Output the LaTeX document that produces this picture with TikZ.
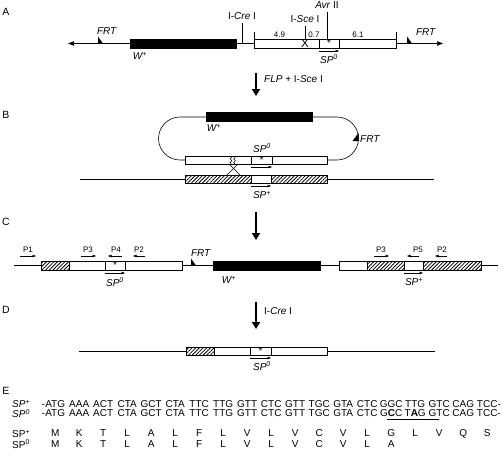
\documentclass[tikz,border=0pt]{standalone}
\usepackage{fontspec}
\setmainfont{Liberation Sans}
\usetikzlibrary{positioning,arrows.meta,patterns.meta,decorations.pathmorphing}

\newcommand{\cdn}[1]{\makebox[24pt]{#1}}
\newcommand{\spz}{\textit{SP\textsuperscript{0}}}
\newcommand{\spp}{\textit{SP\textsuperscript{+}}}
\newcommand{\wplus}{\textit{W\textsuperscript{+}}}

\begin{document}
\begin{tikzpicture}[x=1pt, y=-1pt,
        blackbar/.style={rectangle, draw, fill=black, inner sep=0pt, outer sep=0pt, minimum height=9pt},
        openbox/.style={rectangle, draw, fill=white, line width=0.6pt, inner sep=0pt, outer sep=0pt, minimum height=9pt},
        hatchbox/.style={openbox, pattern={Lines[angle=45, distance=2.6pt, line width=0.8pt]}},
        dnaline/.style={line width=0.6pt},
        smallarrow/.style={line width=0.5pt, -{Triangle[length=3.5pt, width=2.6pt]}},
        bigarrow/.style={line width=2.2pt, -{Triangle[length=7pt, width=8pt]}},
        endarrow/.style={dnaline, -{Triangle[length=6pt, width=4.5pt]}},
        lbl/.style={font=\fontsize{10}{12}\selectfont, inner sep=1pt},
        primer/.style={font=\fontsize{8}{9}\selectfont, inner sep=1pt},
        numlbl/.style={font=\fontsize{8}{9}\selectfont, inner sep=1pt},
        panel/.style={font=\fontsize{10.5}{12}\selectfont, inner sep=0pt},
        seq/.style={font=\fontsize{10}{12}\selectfont, inner sep=0pt, anchor=west},
        node distance=0pt
        ]
        \useasboundingbox (0,0) rectangle (503,459);

        % A
        \node[panel] (lab_a) at (6,12) {A};
        \coordinate (a_left) at (68,43.5);
        \coordinate (a_right) at (443,43.5);
        \node[blackbar, minimum width=106pt, anchor=west] (a_w) at (130,43.5) {};
        \node[openbox, minimum width=65pt, anchor=west]   (a_b1) at (254,43.5) {};
        \node[openbox, minimum width=20pt, right=of a_b1] (a_sp) {*};
        \node[openbox, minimum width=57pt, right=of a_sp] (a_b2) {};
        \draw[endarrow] (a_w.west) -- (a_left);
        \draw[dnaline]  (a_w.east) -- (a_b1.west);
        \draw[endarrow] (a_b2.east) -- (a_right);
        \fill (98,43.5) -- ++(0,-7) -- ++(5,7) -- cycle;
        \fill (407,43.5) -- ++(0,-7) -- ++(5,7) -- cycle;
        \node[lbl] (a_frt1) at (107,31) {\textit{FRT}};
        \node[lbl] (a_frt2) at (426,32) {\textit{FRT}};
        \node[lbl] (a_wlab) at (140,56) {\wplus};
        \node[lbl] (a_cre) at (242,16) {I-\textit{Cre} I};
        \draw[dnaline, shorten <=2pt] (a_cre.south) -- (a_cre.south |- a_w.east);
        \node[lbl] (a_sce) at (305,19) {I-\textit{Sce} I};
        \draw[dnaline, shorten <=2pt] (a_sce.south) -- (a_sce.south |- a_b1.north);
        \node[font=\fontsize{11.5}{12}\selectfont, inner sep=0pt] (a_x) at (a_sce.south |- a_b1.center) {X};
        \node[lbl] (a_avr) at (327,5) {\textit{Avr} II};
        \draw[dnaline, shorten <=2pt] (a_avr.south) -- (a_avr.south |- a_b1.north);
        \draw[dnaline] (a_b1.north west) -- ++(0,-7);
        \draw[dnaline] (a_b2.north east) -- ++(0,-7);
        \node[numlbl] (a_n1) at (279.5,35) {4.9};
        \node[numlbl] (a_n2) at (314,35) {0.7};
        \node[numlbl] (a_n3) at (358,35) {6.1};
        \draw[smallarrow] ([yshift=-3pt]a_sp.south west) -- ([yshift=-3pt]a_sp.south east);
        \node[lbl] (a_spz) at (329,59) {\spz};

        \coordinate (ab_top) at (256,73);
        \coordinate (ab_bot) at (256,96);
        \draw[bigarrow] (ab_top) -- (ab_bot);
        \node[lbl, anchor=west] (ab_lab) at (263,79) {\textit{FLP} + I-\textit{Sce} I};

        % B
        \node[panel] (lab_b) at (6,115) {B};
        \node[blackbar, minimum width=106pt, anchor=west] (b_w) at (206,117) {};
        \node[openbox, minimum width=66pt, minimum height=8pt, anchor=west] (b_t1) at (185,160) {};
        \node[openbox, minimum width=21pt, minimum height=8pt, right=of b_t1] (b_tsp) {*};
        \node[openbox, minimum width=55pt, minimum height=8pt, right=of b_tsp] (b_t2) {};
        \draw[dnaline] (b_w.west) -- ++(-26,0) arc[start angle=270, end angle=90, radius=21.5] -- (b_t1.west);
        \draw[dnaline] (b_w.east) -- ++(25,0) arc[start angle=270, end angle=450, radius=21.5] -- (b_t2.east);
        \fill (358.5,133) -- (358.5,141) -- (352.5,141) -- cycle;
        \node[lbl, anchor=west] (b_frt) at (359,139) {\textit{FRT}};
        \node[lbl] (b_wlab) at (214,128) {\wplus};
        \node[lbl] (b_spz) at (262,148) {\spz};
        \draw[smallarrow] ([yshift=-3pt]b_tsp.south west) -- ([yshift=-3pt]b_tsp.south east);
        \draw[dnaline, decorate, decoration={snake, amplitude=0.8pt, segment length=3.5pt}]
            ([xshift=46pt]b_t1.north west) -- ([xshift=46pt]b_t1.south west);
        \draw[dnaline, decorate, decoration={snake, amplitude=0.8pt, segment length=3.5pt}]
            ([xshift=49.5pt]b_t1.north west) -- ([xshift=49.5pt]b_t1.south west);

        \coordinate (b_left) at (80,179);
        \coordinate (b_right) at (434,179);
        \node[hatchbox, minimum width=66pt, minimum height=8pt, anchor=west] (b_h1) at (185,179) {};
        \node[openbox, minimum width=20pt, minimum height=8pt, right=of b_h1] (b_hsp) {};
        \node[hatchbox, minimum width=56pt, minimum height=8pt, right=of b_hsp] (b_h2) {};
        \draw[dnaline] (b_left) -- (b_h1.west);
        \draw[dnaline] (b_h2.east) -- (b_right);
        \draw[dnaline] ([xshift=44pt]b_t1.south west) -- ([xshift=55pt]b_h1.north west);
        \draw[dnaline] ([xshift=53pt]b_t1.south west) -- ([xshift=42pt]b_h1.north west);
        \draw[smallarrow] ([yshift=-3pt]b_hsp.south west) -- ([yshift=-3pt]b_hsp.south east);
        \node[lbl] (b_spp) at (262,195) {\spp};

        \coordinate (bc_top) at (256,212);
        \coordinate (bc_bot) at (256,240);
        \draw[bigarrow] (bc_top) -- (bc_bot);

        % C
        \node[panel] (lab_c) at (6,222) {C};
        \coordinate (c_left) at (14,265.5);
        \coordinate (c_right) at (498,265.5);
        \node[hatchbox, minimum width=28pt, anchor=west] (c_h1) at (41,265.5) {};
        \node[openbox, minimum width=36pt, right=of c_h1] (c_b1) {};
        \node[openbox, minimum width=20pt, right=of c_b1] (c_sp) {*};
        \node[openbox, minimum width=57pt, right=of c_sp] (c_b2) {};
        \node[blackbar, minimum width=107pt, anchor=west] (c_w) at (213,265.5) {};
        \node[openbox, minimum width=28pt, anchor=west] (c_o1) at (339,265.5) {};
        \node[hatchbox, minimum width=37pt, right=of c_o1] (c_h2) {};
        \node[openbox, minimum width=19pt, right=of c_h2] (c_sp2) {};
        \node[hatchbox, minimum width=58pt, right=of c_sp2] (c_h3) {};
        \draw[dnaline] (c_left) -- (c_h1.west);
        \draw[dnaline] (c_b2.east) -- (c_w.west);
        \draw[dnaline] (c_w.east) -- (c_o1.west);
        \draw[dnaline] (c_h3.east) -- (c_right);
        \fill (191,265.5) -- ++(0,-7) -- ++(5,7) -- cycle;
        \node[lbl] (c_frt) at (201,253) {\textit{FRT}};
        \node[lbl] (c_wlab) at (229,280) {\wplus};
        \draw[smallarrow] ([yshift=-3pt]c_sp.south west) -- ([yshift=-3pt]c_sp.south east);
        \node[lbl] (c_spz) at (115,282) {\spz};
        \draw[smallarrow] ([yshift=-3pt]c_sp2.south west) -- ([yshift=-3pt]c_sp2.south east);
        \node[lbl] (c_spp) at (414,282) {\spp};
        \node[primer] (c_p1) at (28,250) {P1};
        \draw[smallarrow] ([xshift=-8pt, yshift=-6pt]c_p1.center) -- ([xshift=8pt, yshift=-6pt]c_p1.center);
        \node[primer] (c_p3) at (88,250) {P3};
        \draw[smallarrow] ([xshift=-7pt, yshift=-6pt]c_p3.center) -- ([xshift=8pt, yshift=-6pt]c_p3.center);
        \node[primer] (c_p4) at (116,250) {P4};
        \draw[smallarrow] ([xshift=6pt, yshift=-6pt]c_p4.center) -- ([xshift=-8pt, yshift=-6pt]c_p4.center);
        \node[primer] (c_p2) at (139,250) {P2};
        \draw[smallarrow] ([xshift=6pt, yshift=-6pt]c_p2.center) -- ([xshift=-6pt, yshift=-6pt]c_p2.center);
        \node[primer] (c_p3r) at (381,250) {P3};
        \draw[smallarrow] ([xshift=-7pt, yshift=-6pt]c_p3r.center) -- ([xshift=8pt, yshift=-6pt]c_p3r.center);
        \node[primer] (c_p5) at (418,250) {P5};
        \draw[smallarrow] ([xshift=1pt, yshift=-6pt]c_p5.center) -- ([xshift=-11pt, yshift=-6pt]c_p5.center);
        \node[primer] (c_p2r) at (442,250) {P2};
        \draw[smallarrow] ([xshift=5pt, yshift=-6pt]c_p2r.center) -- ([xshift=-7pt, yshift=-6pt]c_p2r.center);

        \coordinate (cd_top) at (256,302);
        \coordinate (cd_bot) at (256,329);
        \draw[bigarrow] (cd_top) -- (cd_bot);
        \node[lbl, anchor=west] (cd_lab) at (263,311) {I-\textit{Cre} I};

        % D
        \node[panel] (lab_d) at (6,310) {D};
        \coordinate (d_left) at (79,351);
        \coordinate (d_right) at (435,351);
        \node[hatchbox, minimum width=28pt, minimum height=8pt, anchor=west] (d_h) at (186,351) {};
        \node[openbox, minimum width=36pt, minimum height=8pt, right=of d_h] (d_b1) {};
        \node[openbox, minimum width=21pt, minimum height=8pt, right=of d_b1] (d_sp) {*};
        \node[openbox, minimum width=56pt, minimum height=8pt, right=of d_sp] (d_b2) {};
        \draw[dnaline] (d_left) -- (d_h.west);
        \draw[dnaline] (d_b2.east) -- (d_right);
        \draw[smallarrow] ([yshift=-3pt]d_sp.south west) -- ([yshift=-3pt]d_sp.south east);
        \node[lbl] (d_spz) at (262,366) {\spz};

        % E
        \node[panel] (lab_e) at (6,391) {E};
        \node[seq] (e_lp) at (12,404) {\spp};
        \node[seq] (e_lz) at (12,413.5) {\spz};
        \node[seq] (e_dnap) at (43,404) {\cdn{\llap{-}ATG}\cdn{AAA}\cdn{ACT}\cdn{CTA}\cdn{GCT}\cdn{CTA}\cdn{TTC}\cdn{TTG}\cdn{GTT}\cdn{CTC}\cdn{GTT}\cdn{TGC}\cdn{GTA}\cdn{CTC}\cdn{GGC}\cdn{TTG}\cdn{GTC}\cdn{CAG}\cdn{TCC\rlap{-}}};
        \node[seq] (e_dnaz) at (43,413.5) {\cdn{\llap{-}ATG}\cdn{AAA}\cdn{ACT}\cdn{CTA}\cdn{GCT}\cdn{CTA}\cdn{TTC}\cdn{TTG}\cdn{GTT}\cdn{CTC}\cdn{GTT}\cdn{TGC}\cdn{GTA}\cdn{CTC}\cdn{G\textbf{C}C}\cdn{T\textbf{A}G}\cdn{GTC}\cdn{CAG}\cdn{TCC\rlap{-}}};
        \draw[line width=0.9pt] (387,419.5) -- (439,419.5);
        \node[seq] (e_rp) at (12,434) {SP\textsuperscript{+}};
        \node[seq] (e_rz) at (12,444) {SP\textsuperscript{0}};
        \node[seq] (e_protp) at (43,434) {\cdn{M}\cdn{K}\cdn{T}\cdn{L}\cdn{A}\cdn{L}\cdn{F}\cdn{L}\cdn{V}\cdn{L}\cdn{V}\cdn{C}\cdn{V}\cdn{L}\cdn{G}\cdn{L}\cdn{V}\cdn{Q}\cdn{S}};
        \node[seq] (e_protz) at (43,444) {\cdn{M}\cdn{K}\cdn{T}\cdn{L}\cdn{A}\cdn{L}\cdn{F}\cdn{L}\cdn{V}\cdn{L}\cdn{V}\cdn{C}\cdn{V}\cdn{L}\cdn{A}};
    \end{tikzpicture}
\end{document}
